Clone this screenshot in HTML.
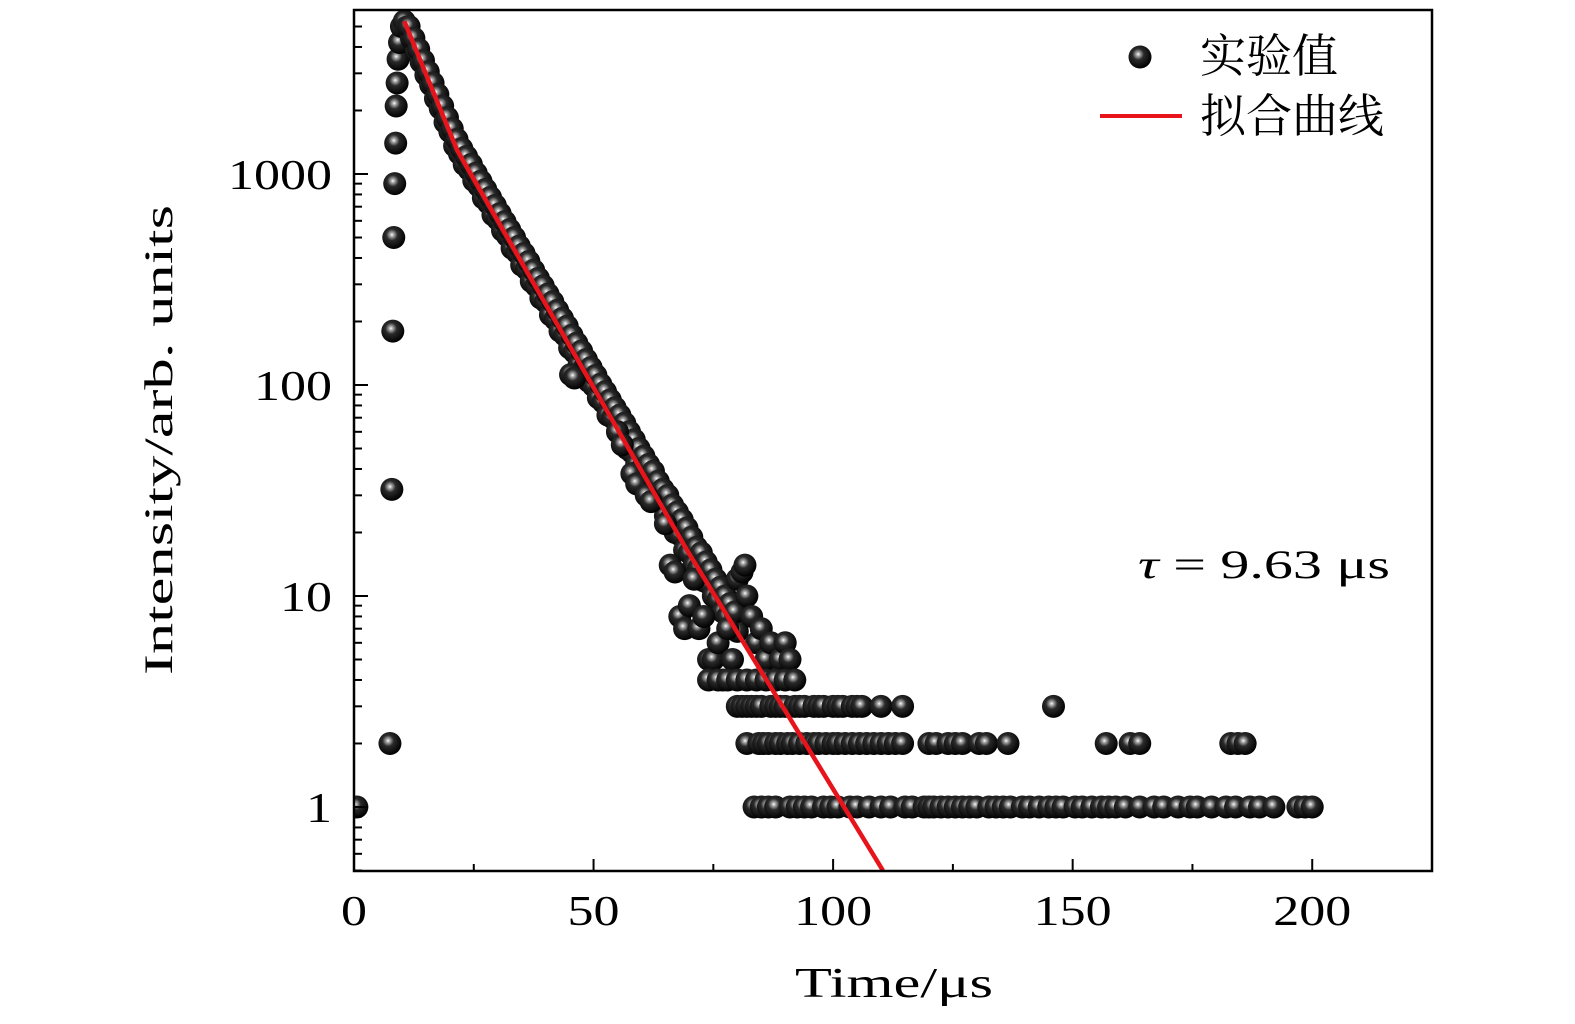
<!DOCTYPE html>
<html><head><meta charset="utf-8">
<style>
html,body{margin:0;padding:0;background:#fff;}
svg{display:block;}
text{font-family:"Liberation Serif","Noto Serif CJK SC",serif;fill:#000;}
.cjk{font-family:"Noto Serif CJK SC","Noto Sans CJK SC",serif;}
</style></head>
<body>
<svg id="chart" width="1575" height="1024" viewBox="0 0 1575 1024" xmlns="http://www.w3.org/2000/svg">
<defs>
<radialGradient id="ball" cx="0.42" cy="0.38" r="0.62">
<stop offset="0" stop-color="#ffffff"/>
<stop offset="0.12" stop-color="#b0b0b0"/>
<stop offset="0.4" stop-color="#2a2a2a"/>
<stop offset="1" stop-color="#000"/>
</radialGradient>
<clipPath id="plotclip"><rect x="354" y="10" width="1078" height="861"/></clipPath>
</defs>
<g id="marks" clip-path="url(#plotclip)"></g>
<g id="axes"></g>
<text x="795" y="997" font-size="42" textLength="198" lengthAdjust="spacingAndGlyphs">Time/μs</text>
<text transform="translate(172,440) rotate(-90)" x="-235" y="0" font-size="40" textLength="470" lengthAdjust="spacingAndGlyphs">Intensity/arb. units</text>
<g>
<circle cx="1140" cy="57" r="11.5" fill="url(#ball)"/>
<text x="1200" y="72" font-size="46" class="cjk">实验值</text>
<line x1="1100" y1="116" x2="1182" y2="116" stroke="#e8141c" stroke-width="4"/>
<text x="1200" y="132" font-size="46" class="cjk">拟合曲线</text>
</g>
<text x="1138" y="578" font-size="40" textLength="252" lengthAdjust="spacingAndGlyphs"><tspan font-style="italic">τ</tspan> = 9.63 μs</text>
</svg>
<script>
// ---- data ----
const riseTimes = [0.6, 7.5, 7.9, 8.1, 8.3, 8.5, 8.7, 8.8, 9.0, 9.2, 9.5, 9.9];
const riseValues = [1, 2, 32, 180, 500, 900, 1400, 2100, 2700, 3500, 4200, 5000];
const decayTimes = [10.5,11,12,13,14,15,16,17,18,19,20,21,22,23,24,25,26,27,28,29,30,31,32,33,34,35,36,37,38,39,40,41,42,43,44,45,46,47,48,49,50,51,52,53,54,55,56,57,58,59,60,61,62,63,64,65,66,67,68,69,70,71,72,73,74,75,76,77,78,79,80];
const decayValues = [5300,4970,4400,3800,3400,2950,2650,2280,2050,1760,1590,1360,1250,1110,1050,930,880,770,730,640,610,540,510,445,425,370,355,310,295,258,248,215,205,180,172,150,143,125,120,104,99,87,83,72,70,60,58,50,48,42,40,35,34,29,28,24,23,20,19.5,16.5,16,14,13.6,11.8,11.5,10,9.6,8.4,8,7.1,6.8];
const decay2Times = [11.5,12.5,13.5,14.5,15.5,16.5,17.5,18.5,19.5,20.5,21.5,22.5,23.5,24.5,25.5,26.5,27.5,28.5,29.5,30.5,31.5,32.5,33.5,34.5,35.5,36.5,37.5,38.5,39.5,40.5,41.5,42.5,43.5,44.5,45.5,46.5,47.5,48.5,49.5,50.5,51.5,52.5,53.5,54.5,55.5,56.5,57.5,58.5,59.5,60.5,61.5,62.5,63.5,64.5,65.5,66.5,67.5,68.5,69.5,70.5,71.5,72.5,73.5,74.5,75.5,76.5,77.5,78.5,79.5];
const decay2Values = [5000,4400,3900,3450,3050,2700,2380,2100,1850,1640,1460,1320,1210,1110,1010,925,845,775,710,650,595,545,500,455,420,385,350,320,295,270,248,226,207,190,172,158,145,132,121,111,101,93,85,78,72,66,60,55,50,46,42,39,35,32,30,27,25,23,21,19,17,16,14.5,13.3,12,11,10,9.2,8.4];
const scatterTimes = [45.2,46,55,56,58,59,61,62,65,66,67,68,69,70,71,72,73,74,75,76,77,78,79,80,81,81.6,82,83,84,85,86,87,88,89,90,91,74,76,78,80,82,84,86,88,90,92];
const scatterValues = [112,108,60,52,38,34,30,28,22,14,13,8,7,9,12,7,8,5,5,6,4,7,5,12,13,14,10,8,6,7,5,6,4,5,6,5,4,4,4,4,4,4,4,4,4,4];
const level3Times = [80,81,82,83,84,85,87,88,89,90,92,93,94,96,97,98,100,101,102,104,105,106,110,114.5,146];
const level2Times = [82,84.5,85.5,86.5,88,89,90.5,91.5,93,94.5,96,97,98.5,100,101,102.5,104,105.5,107,108.5,110,111.5,113,114.5,120,121.5,124,125.5,127,130.5,132,136.5,157,162,164,183,184.5,186];
const level1Times = [83.5,85,86.5,88,91,92.5,94,95.5,98,99.5,101,103.5,105,107.5,110,112,115,116.5,119,120,121,122.5,124,125.5,127,128.5,130,132.5,134,135.5,137,139.5,141,143,145,146.5,148,150.5,152,154,156,157.5,159,161,164,167,169,172,174.5,176,179,182,184,187,189,192,197,198.5,200];
const fitTimes = [10.5, 21.5, 69.5, 110.4];
const fitValues = [5300, 1300, 16.5, 0.5];
const xTicks = [0, 50, 100, 150, 200];
const xTickLabels = ["0", "50", "100", "150", "200"];
const yTicks = [1, 10, 100, 1000];
const yTickLabels = ["1", "10", "100", "1000"];

// ---- axes ----
const X0 = 354, X1 = 1432, Y0 = 871, Y1 = 10;
const xMin = 0, xMax = 225;
const pxPerDecade = 211, yRef = 807;
function xs(t){ return X0 + (t - xMin) / (xMax - xMin) * (X1 - X0); }
function ys(v){ return yRef - Math.log10(v) * pxPerDecade; }

const NS = "http://www.w3.org/2000/svg";
const marks = document.getElementById('marks');
const axes = document.getElementById('axes');
function mk(tag, attrs, parent){ const e = document.createElementNS(NS, tag); for (const k in attrs) e.setAttribute(k, attrs[k]); parent.appendChild(e); return e; }

function dot(t, v, name){
  const c = mk('circle', {cx: xs(t), cy: ys(v), r: 11.5, fill: 'url(#ball)'}, marks);
  
  
}
riseTimes.forEach((t,i)=>dot(t, riseValues[i], 'data-point'));
decayTimes.forEach((t,i)=>dot(t, decayValues[i], 'data-point'));
decay2Times.forEach((t,i)=>dot(t, decay2Values[i], 'data-point'));
scatterTimes.forEach((t,i)=>dot(t, scatterValues[i], 'data-point'));
level3Times.forEach(t=>dot(t, 3, 'data-point'));
level2Times.forEach(t=>dot(t, 2, 'data-point'));
level1Times.forEach(t=>dot(t, 1, 'data-point'));

const fit = mk('polyline', {points: fitTimes.map((t,i)=>xs(t)+','+ys(fitValues[i])).join(' '), fill:'none', stroke:'#e8141c', 'stroke-width':4.5, 'stroke-linejoin':'round'}, marks);



const frame = mk('rect', {x:X0, y:Y1, width:X1-X0, height:Y0-Y1, fill:'none', stroke:'#000', 'stroke-width':2.5}, axes);



for (let t = 0; t <= 225; t += 25){
  const major = t % 50 === 0;
  const l = mk('line', {x1: xs(t), x2: xs(t), y1: Y0, y2: Y0 - (major ? 12 : 7), stroke:'#000', 'stroke-width':2}, axes);
  
  
}
xTicks.forEach((t,i)=>{
  const tx = mk('text', {x: xs(t), y: 925, 'font-size': 42, 'text-anchor':'middle', textLength: 26 * xTickLabels[i].length, lengthAdjust:'spacingAndGlyphs'}, axes);
  tx.textContent = xTickLabels[i];
  
  
});
for (let d = -1; d <= 3; d++){
  for (let m = 1; m <= 9; m++){
    const v = m * Math.pow(10, d);
    const y = ys(v);
    if (y > Y0 || y < Y1) continue;
    const major = m === 1;
    const l = mk('line', {x1: X0, x2: X0 + (major ? 14 : 8), y1: y, y2: y, stroke:'#000', 'stroke-width':2}, axes);
    
    
  }
}
yTicks.forEach((v,i)=>{
  const tx = mk('text', {x: 332, y: ys(v) + 15, 'font-size': 42, 'text-anchor':'end', textLength: 26 * yTickLabels[i].length, lengthAdjust:'spacingAndGlyphs'}, axes);
  tx.textContent = yTickLabels[i];
  
  
});
</script>
</body></html>
